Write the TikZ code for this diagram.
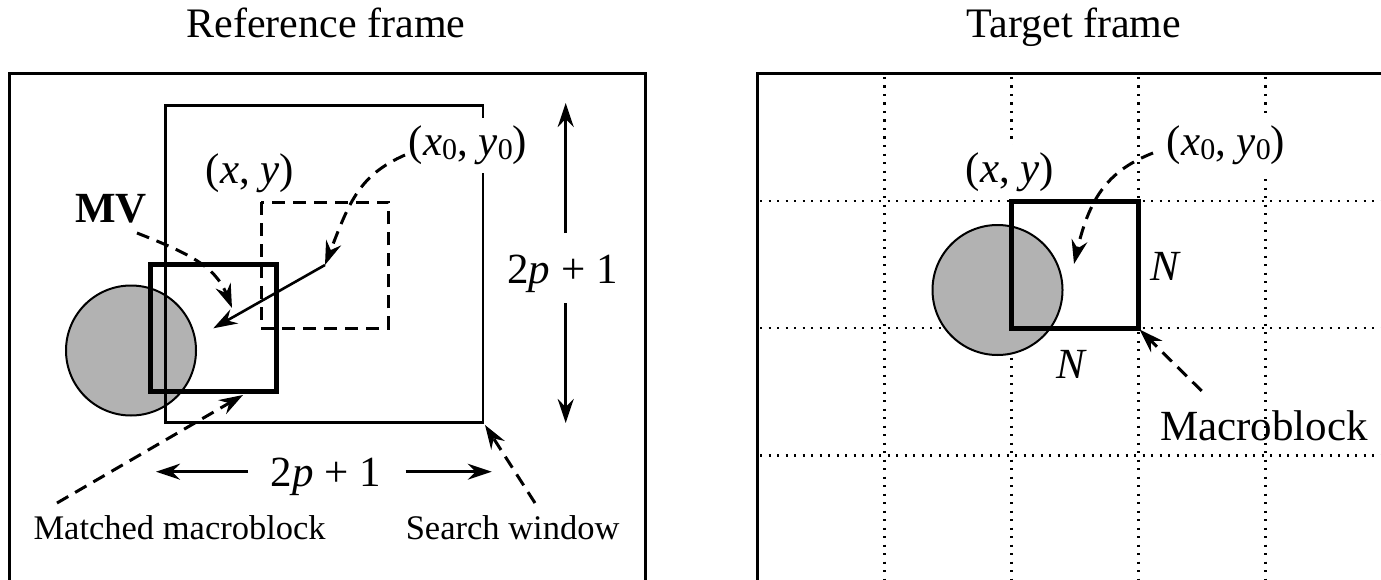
\documentclass[tikz,border=0pt]{standalone}
\usepackage{fontspec}
\setmainfont{Liberation Serif}
\usetikzlibrary{arrows.meta}
% lowered digit used as a subscript
\newcommand\subz{\raisebox{-4bp}{\fontsize{30bp}{30bp}\selectfont 0}}

\begin{document}
\begin{tikzpicture}[x=1bp,y=-1bp,
  frameline/.style={line width=3bp},
  winline/.style={line width=2.6bp},
  blockline/.style={line width=5bp},
  dashline/.style={line width=3bp, dash pattern=on 13bp off 8bp},
  dotline/.style={line width=2.2bp, dash pattern=on 2.2bp off 6.3bp},
  blob/.style={draw, line width=2bp, fill=gray!60},
  arr/.style={-{Stealth[length=24bp,width=16bp,inset=8bp]}},
  big/.style={font=\fontsize{43bp}{50bp}\selectfont, inner sep=0pt, anchor=base},
  small/.style={font=\fontsize{34.5bp}{40bp}\selectfont, inner sep=0pt, anchor=base},
  title/.style={font=\fontsize{42bp}{50bp}\selectfont, inner sep=0pt, anchor=base},
  mask/.style={fill=white, inner xsep=3bp, inner ysep=8bp},
]
\useasboundingbox (0,0) rectangle (1381,580);
\clip (0,0) rectangle (1381,580);

% titles
\node[title] (reftitle) at (326,38) {Reference frame};
\node[title] (tgttitle) at (1074,38) {Target frame};

% frame outlines (open at the bottom / right)
\draw[frameline] (9.5,600) -- (9.5,74) -- (645.5,74) -- (645.5,600);
\draw[frameline] (757,600) -- (757,74) -- (1400,74);

% macroblock grid of the target frame
\foreach \x in {884.5,1011.5,1138.5,1265.5} \draw[dotline] (\x,77) -- (\x,600);
\foreach \y in {201,328,455.5} \draw[dotline] (760,\y) -- (1400,\y);

% moving object
\draw[blob] (131,350.5) circle[radius=65];
\draw[blob] (997.5,290) circle[radius=65];

% search window and candidate blocks
\draw[winline] (165.5,105.5) rectangle (483,422.5);
\draw[dashline] (261,202) rectangle (388.5,328);

% labels
\node[big, mask] (xyref) at (250,184) {(\textit{x}, \textit{y})};
\node[big, mask] (x0ref) at (468,156) {(\textit{x}\subz, \textit{y}\subz)};
\node[big] (mvlabel) at (111,222.7) {\textbf{MV}};
\node[big] (hlabel) at (326,486) {2\textit{p} + 1};
\node[big] (vlabel) at (562.5,283) {2\textit{p} + 1};
\node[small] (matchlabel) at (179.6,539) {Matched macroblock};
\node[small] (winlabel) at (512.6,539) {Search window};

\node[big, mask] (xytgt) at (1010,183) {(\textit{x}, \textit{y})};
\node[big, mask] (x0tgt) at (1226,156) {(\textit{x}\subz, \textit{y}\subz)};
\node[big] (nright) at (1166,280) {\textit{N}};
\node[big] (nbottom) at (1072,378) {\textit{N}};
\node[big] (mblabel) at (1264,440) {Macroblock};

% matched block and current macroblock
\draw[blockline] (150,264.5) rectangle (276.5,391.5);
\draw[blockline] (1011.5,201) rectangle (1138.5,328);

% connector end points
\coordinate (mvtail) at (325,265);
\coordinate (mvhead) at (213.3,328.3);
\coordinate (x0refend) at (405,155);
\coordinate (mvlabelend) at (137,233);
\coordinate (mvpoint) at (232,308);
\coordinate (matchend) at (57,503);
\coordinate (matchtip) at (243,395);
\coordinate (winend) at (535,503);
\coordinate (wincorner) at (485,425);
\coordinate (hleft) at (248,471.7);
\coordinate (hlefttip) at (156,471.7);
\coordinate (hright) at (405.5,471.7);
\coordinate (hrighttip) at (491.7,471.7);
\coordinate (vup) at (565.7,233);
\coordinate (vuptip) at (565.7,103);
\coordinate (vdown) at (565.7,303);
\coordinate (vdowntip) at (565.7,423);
\coordinate (x0tgtend) at (1153,153);
\coordinate (x0tgttip) at (1074,264);
\coordinate (mbend) at (1201.7,391);
\coordinate (mbcorner) at (1139.5,329.5);

% motion vector
\draw[winline, arr] (mvtail) -- (mvhead);

% leader lines
\draw[dashline, arr] (x0refend) .. controls (360,175) and (350,200) .. (mvtail);
\draw[dashline, arr] (mvlabelend) .. controls (185,252) and (215,265) .. (mvpoint);
\draw[dashline, arr] (matchend) -- (matchtip);
\draw[dashline, arr] (winend) -- (wincorner);
\draw[dashline, arr] (x0tgtend) .. controls (1110,170) and (1090,195) .. (x0tgttip);
\draw[dashline, arr] (mbend) -- (mbcorner);

% search range dimensions
\draw[winline, arr] (hleft) -- (hlefttip);
\draw[winline, arr] (hright) -- (hrighttip);
\draw[winline, arr] (vup) -- (vuptip);
\draw[winline, arr] (vdown) -- (vdowntip);
\end{tikzpicture}
\end{document}
